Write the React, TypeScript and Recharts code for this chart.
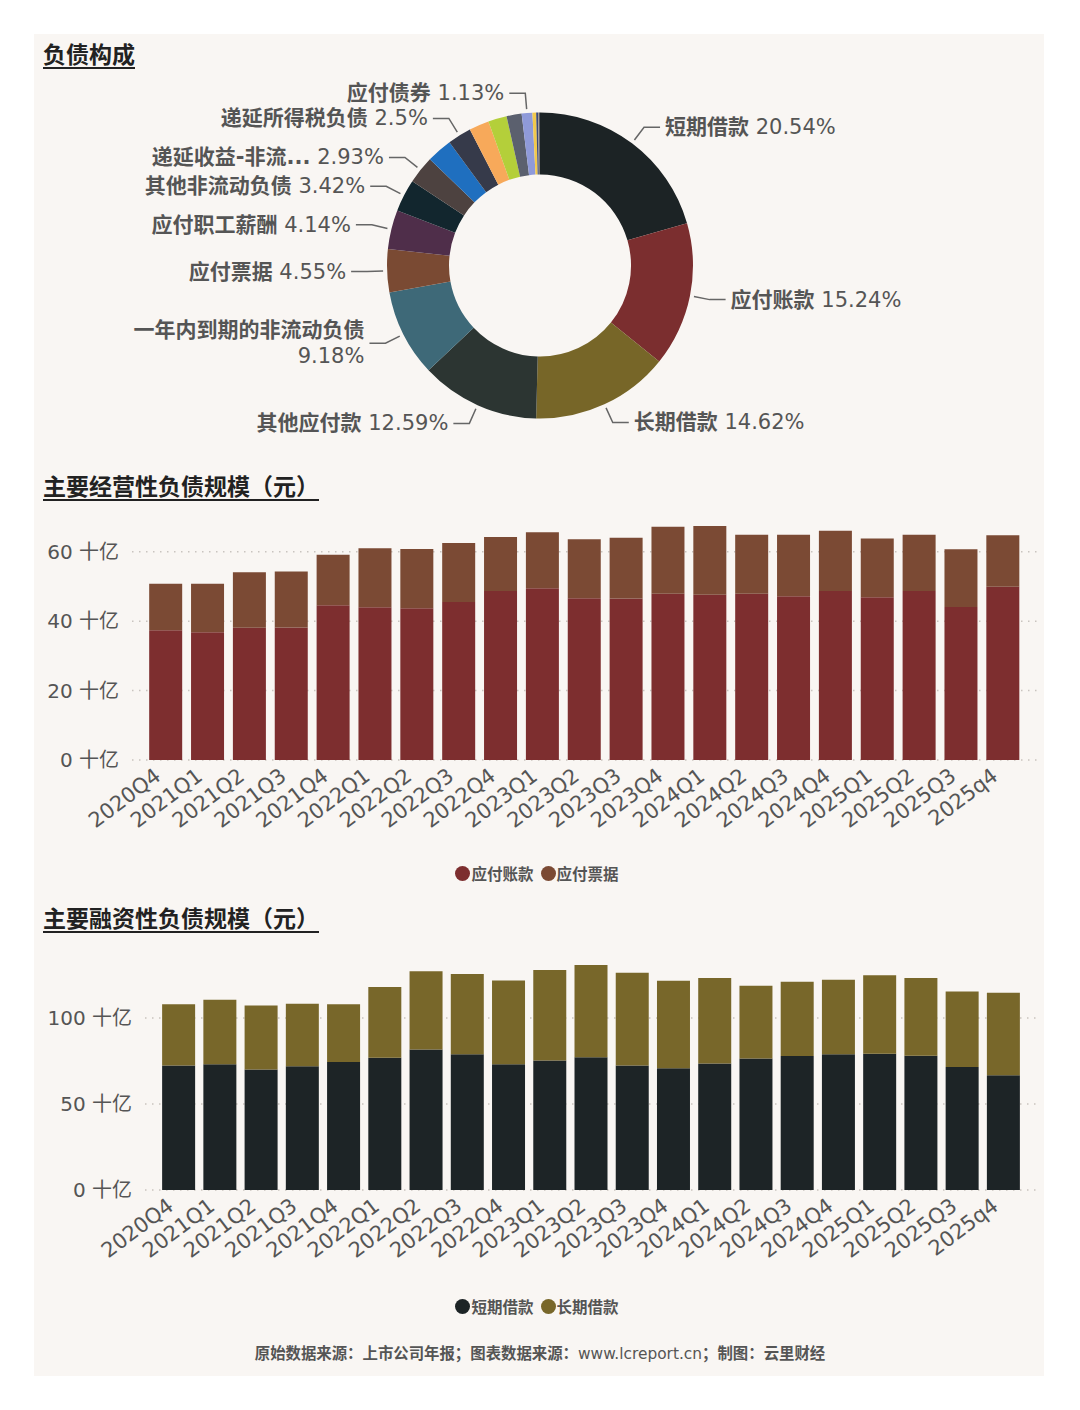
import { Bar, BarChart, CartesianGrid, Cell, Pie, PieChart, XAxis, YAxis } from 'recharts';

const FONT = "'DejaVu Sans', 'Noto Sans CJK SC', sans-serif";
const CJK = "'Noto Sans CJK SC', sans-serif";
const TEXT = '#555';
const CARD = '#f9f6f3';

// 负债构成 (share of total liabilities, %)
const debtNames = [
  '短期借款',
  '应付账款',
  '长期借款',
  '其他应付款',
  '一年内到期的非流动负债',
  '应付票据',
  '应付职工薪酬',
  '其他非流动负债',
  '递延收益-非流动负债',
  '应交税费',
  '递延所得税负债',
  '合同负债',
  '租赁负债',
  '其他流动负债',
  '应付债券',
  '预计负债',
  '长期应付款',
  '预收款项',
  '应付股利',
];
const debtShares = [20.54, 15.24, 14.62, 12.59, 9.18, 4.55, 4.14, 3.42, 2.93, 2.71, 2.5, 2.11, 1.96, 1.59, 1.13, 0.39, 0.2, 0.12, 0.08];
const debtColors = [
  '#1c2325', '#7b2e2f', '#776628', '#2c3532', '#3e6978', '#7a4a33', '#4f2e4a', '#12262e', '#4d4240',
  '#1f6fbf', '#363a4a', '#f7a95a', '#b4cf3a', '#5b606e', '#8f9ad9', '#f2c94c', '#3b4a7a', '#9a8f86', '#2a2f3a',
];
const hiddenLabels = ['应交税费', '合同负债', '租赁负债', '其他流动负债', '预计负债', '长期应付款', '预收款项', '应付股利'];
const shortLabels: Record<string, string> = { '递延收益-非流动负债': '递延收益-非流...' };
const wrappedLabels = ['一年内到期的非流动负债'];

// 主要经营性 / 融资性负债规模 (十亿元)
const quarters = [
  '2020Q4', '2021Q1', '2021Q2', '2021Q3', '2021Q4', '2022Q1', '2022Q2', '2022Q3', '2022Q4', '2023Q1', '2023Q2',
  '2023Q3', '2023Q4', '2024Q1', '2024Q2', '2024Q3', '2024Q4', '2025Q1', '2025Q2', '2025Q3', '2025q4',
];
const accountsPayable = [37.4, 36.8, 38.1, 38.2, 44.6, 44.0, 43.7, 45.5, 48.7, 49.5, 46.6, 46.5, 47.9, 47.6, 47.9, 47.2, 48.7, 46.9, 48.7, 44.1, 49.9];
const notesPayable = [13.4, 14.0, 16.0, 16.1, 14.5, 17.0, 17.1, 17.0, 15.5, 16.1, 17.0, 17.5, 19.3, 19.8, 17.0, 17.7, 17.3, 16.9, 16.2, 16.6, 14.8];
const shortLoans = [72.4, 73.2, 70.1, 72.0, 74.4, 76.9, 81.7, 79.0, 73.2, 75.3, 77.3, 72.4, 70.9, 73.6, 76.5, 77.9, 79.0, 79.2, 78.1, 71.5, 66.8];
const longLoans = [35.6, 37.5, 37.3, 36.3, 33.6, 41.2, 45.5, 46.6, 48.7, 52.7, 53.6, 54.0, 50.8, 49.7, 42.3, 43.3, 43.3, 45.7, 45.2, 44.0, 48.0];

const operatingTicks = [0, 20, 40, 60];
const financingTicks = [0, 50, 100];

type Series = { key: string; name: string; color: string };

const operatingSeries: Series[] = [
  { key: 'accountsPayable', name: '应付账款', color: '#7d2e2f' },
  { key: 'notesPayable', name: '应付票据', color: '#7b4a34' },
];
const financingSeries: Series[] = [
  { key: 'shortLoans', name: '短期借款', color: '#1d2426' },
  { key: 'longLoans', name: '长期借款', color: '#78672a' },
];

const debtData = debtNames.map((name, i) => ({ name, value: debtShares[i] }));
const operatingData = quarters.map((quarter, i) => ({
  quarter,
  accountsPayable: accountsPayable[i],
  notesPayable: notesPayable[i],
}));
const financingData = quarters.map((quarter, i) => ({
  quarter,
  shortLoans: shortLoans[i],
  longLoans: longLoans[i],
}));

const RAD = Math.PI / 180;

function DonutLabel(props: any) {
  const { cx, cy, midAngle, outerRadius, name, value } = props;
  if (hiddenLabels.includes(name)) return null;
  const cos = Math.cos(-midAngle * RAD);
  const sin = Math.sin(-midAngle * RAD);
  const x0 = cx + (outerRadius + 4) * cos;
  const y0 = cy + (outerRadius + 4) * sin;
  const x1 = cx + (outerRadius + 20) * cos;
  const y1 = cy + (outerRadius + 20) * sin;
  const right = cos >= 0;
  const x2 = x1 + (right ? 16 : -16);
  const tx = x2 + (right ? 5 : -5);
  const anchor = right ? 'start' : 'end';
  const label = shortLabels[name] ?? name;

  return (
    <g>
      <polyline points={`${x0},${y0} ${x1},${y1} ${x2},${y1}`} fill="none" stroke="#666" strokeWidth={1.5} />
      {wrappedLabels.includes(name) ? (
        <text textAnchor={anchor} fill={TEXT} fontSize={21} fontFamily={FONT}>
          <tspan x={tx} y={y1 - 13} dominantBaseline="central" fontWeight="bold">
            {label}
          </tspan>
          <tspan x={tx} y={y1 + 13} dominantBaseline="central">
            {value}%
          </tspan>
        </text>
      ) : (
        <text x={tx} y={y1} textAnchor={anchor} dominantBaseline="central" fill={TEXT} fontSize={21} fontFamily={FONT}>
          <tspan fontWeight="bold">{label}</tspan> {value}%
        </text>
      )}
    </g>
  );
}

function QuarterTick({ x, y, payload }: any) {
  return (
    <text
      x={0}
      y={0}
      transform={`translate(${x - 8},${y + 5}) rotate(-37)`}
      textAnchor="end"
      dominantBaseline="central"
      fill={TEXT}
      fontSize={21}
      fontFamily={FONT}
    >
      {payload.value}
    </text>
  );
}

function Title({ top, children }: { top: number; children: string }) {
  return (
    <div
      style={{
        position: 'absolute',
        left: 43,
        top,
        fontSize: 23,
        lineHeight: '23px',
        fontWeight: 'bold',
        color: '#222',
        textDecoration: 'underline',
        textDecorationThickness: 2,
        textUnderlineOffset: 4,
        fontFamily: CJK,
      }}
    >
      {children}
    </div>
  );
}

function SeriesLegend({ top, series }: { top: number; series: Series[] }) {
  return (
    <div
      style={{
        position: 'absolute',
        left: 0,
        top,
        width: 1074,
        display: 'flex',
        justifyContent: 'center',
        gap: 7,
        fontSize: 15.5,
        lineHeight: '20px',
        color: TEXT,
        fontWeight: 'bold',
        fontFamily: CJK,
      }}
    >
      {series.map((s) => (
        <div key={s.name} style={{ display: 'flex', alignItems: 'center', gap: 1 }}>
          <span style={{ width: 15, height: 15, borderRadius: '50%', background: s.color, display: 'inline-block' }} />
          <span>{s.name}</span>
        </div>
      ))}
    </div>
  );
}

function StackedBars({
  top,
  height,
  yWidth,
  data,
  series,
  ticks,
  marginTop,
}: {
  top: number;
  height: number;
  yWidth: number;
  data: any[];
  series: Series[];
  ticks: number[];
  marginTop: number;
}) {
  return (
    <div style={{ position: 'absolute', left: 0, top }}>
      <BarChart
        width={1080}
        height={height}
        data={data}
        margin={{ top: marginTop, right: 43, bottom: 20, left: 0 }}
        barCategoryGap="10%"
      >
        <CartesianGrid
          vertical={false}
          horizontalValues={ticks}
          stroke="#c9c4bf"
          strokeWidth={1.5}
          strokeDasharray="1.5 5.5"
        />
        <XAxis
          dataKey="quarter"
          interval={0}
          axisLine={false}
          tickLine={false}
          padding={{ left: 13, right: 13 }}
          height={60}
          tick={<QuarterTick />}
        />
        <YAxis
          width={yWidth}
          ticks={ticks}
          domain={[0, 'dataMax']}
          axisLine={false}
          tickLine={false}
          tickMargin={7}
          tick={{ fill: TEXT, fontSize: 20, fontFamily: FONT }}
          tickFormatter={(v: number) => `${v} 十亿`}
        />
        {series.map((s) => (
          <Bar key={s.key} dataKey={s.key} name={s.name} stackId="total" fill={s.color} isAnimationActive={false} />
        ))}
      </BarChart>
    </div>
  );
}

export default function App() {
  return (
    <div style={{ position: 'relative', width: 1080, height: 1410, fontFamily: FONT }}>
      <style>{'body{margin:0}'}</style>
      <div style={{ position: 'absolute', left: 34, top: 34, width: 1010, height: 1342, background: CARD }} />

      <Title top={42}>负债构成</Title>
      <div style={{ position: 'absolute', left: 0, top: 70 }}>
        <PieChart width={1080} height={400} margin={{ top: 0, right: 0, bottom: 0, left: 0 }}>
          <Pie
            data={debtData}
            dataKey="value"
            nameKey="name"
            cx={540}
            cy={195.5}
            innerRadius={91}
            outerRadius={153}
            startAngle={90}
            endAngle={-270}
            stroke="none"
            label={DonutLabel}
            labelLine={false}
            isAnimationActive={false}
          >
            {debtData.map((d, i) => (
              <Cell key={d.name} fill={debtColors[i]} />
            ))}
          </Pie>
        </PieChart>
      </div>

      <Title top={474}>主要经营性负债规模（元）</Title>
      <StackedBars top={500} height={340} yWidth={132} data={operatingData} series={operatingSeries} ticks={operatingTicks} marginTop={26} />
      <SeriesLegend top={863} series={operatingSeries} />

      <Title top={906}>主要融资性负债规模（元）</Title>
      <StackedBars top={940} height={330} yWidth={145} data={financingData} series={financingSeries} ticks={financingTicks} marginTop={25} />
      <SeriesLegend top={1296} series={financingSeries} />

      <div
        style={{
          position: 'absolute',
          left: 0,
          top: 1342,
          width: 1080,
          textAlign: 'center',
          fontSize: 15.4,
          lineHeight: '20px',
          color: TEXT,
          fontWeight: 'bold',
          fontFamily: CJK,
        }}
      >
        原始数据来源：上市公司年报；图表数据来源：
        <span style={{ fontWeight: 'normal', fontFamily: FONT }}>www.lcreport.cn</span>
        ；制图：云里财经
      </div>
    </div>
  );
}
